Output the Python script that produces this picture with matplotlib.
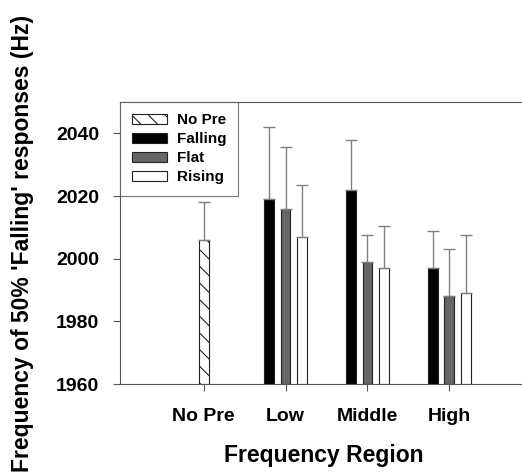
import numpy as np
import matplotlib.pyplot as plt

plt.rcParams['font.family'] = ['Liberation Sans', 'DejaVu Sans']
plt.rcParams['font.weight'] = 'bold'
plt.rcParams['hatch.linewidth'] = 0.8

categories = ['No Pre', 'Low', 'Middle', 'High']
nopre_mean = [2006]
nopre_err = [12]
falling_mean = [2019, 2022, 1997]
falling_err = [23, 16, 12]
flat_mean = [2016, 1999, 1988]
flat_err = [19.5, 8.5, 15]
rising_mean = [2007, 1997, 1989]
rising_err = [16.5, 13.5, 18.5]

base = 1960
x = np.arange(len(categories))
w = 0.12
off = 0.2

fig = plt.figure(figsize=(5.22, 4.72), dpi=100)
ax = fig.add_axes([0.23, 0.186, 0.78, 0.598])

ekw = dict(ecolor='#808080', elinewidth=1, capsize=4, capthick=1)

def draw(xs, means, errs, **kw):
    heights = [m - base for m in means]
    ax.bar(xs, heights, w, bottom=base, edgecolor='#222222', linewidth=0.8,
           yerr=[np.zeros(len(errs)), errs], error_kw=ekw, **kw)

draw(x[:1], nopre_mean, nopre_err, color='white', hatch='\\\\', label='No Pre')
draw(x[1:] - off, falling_mean, falling_err, color='black', label='Falling')
draw(x[1:], flat_mean, flat_err, color='#666666', label='Flat')
draw(x[1:] + off, rising_mean, rising_err, color='white', label='Rising')

ax.set_ylim(1960, 2050)
ax.set_xlim(-1.02, 3.95)
ax.set_yticks([1960, 1980, 2000, 2020, 2040])
ax.set_xticks(x)
ax.set_xticklabels(categories)
ax.tick_params(labelsize=14, length=5, color='#555555')
ax.tick_params(axis='x', pad=12)
ax.tick_params(axis='y', pad=10)
for s in ['left', 'bottom', 'top']:
    ax.spines[s].set_color('#555555')
ax.spines['right'].set_visible(False)

ax.set_xlabel('Frequency Region', fontsize=16.5, fontweight='bold', labelpad=14)
ax.set_ylabel("Frequency of 50% 'Falling' responses (Hz)", fontsize=16.5,
              fontweight='bold', labelpad=16)

leg = ax.legend(loc='upper left', fontsize=11, frameon=True, fancybox=False,
                borderaxespad=0, handlelength=2.3, handleheight=0.6,
                labelspacing=0.32, borderpad=0.75, handletextpad=0.65)
leg.get_frame().set_edgecolor('#555555')
leg.get_frame().set_linewidth(0.8)

plt.savefig('out.png', dpi=100)
